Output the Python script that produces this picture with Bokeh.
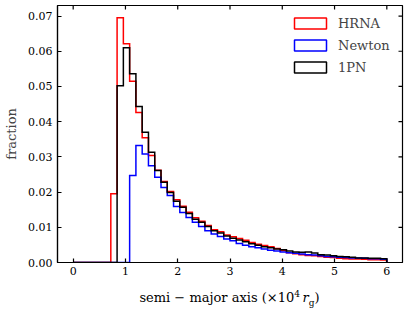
import numpy as np
from bokeh.plotting import figure
from bokeh.layouts import column
from bokeh.models import (Range1d, FixedTicker, Legend, LegendItem, Div,
                          NumeralTickFormatter)
from bokeh.embed import file_html
from bokeh.resources import INLINE

# ---- data (histogram fractions, 50 bins from 0 to 6, width 0.12) ----
bin_start = 0.0
bin_end = 6.0
n_bins = 50

hrna = [0, 0, 0, 0, 0, 0,
        0.0195, 0.0695, 0.0621, 0.0515, 0.0426, 0.0354, 0.0304, 0.0262, 0.0230, 0.0202,
        0.0178, 0.0160, 0.0143, 0.0127, 0.0117, 0.0105, 0.0093, 0.0087, 0.0078, 0.0073,
        0.0068, 0.0063, 0.0057, 0.0052, 0.0048, 0.0045, 0.0040, 0.0034, 0.0028, 0.0025,
        0.0022, 0.0020, 0.0019, 0.0017, 0.0015, 0.0014, 0.0012, 0.0011, 0.0010, 0.0010,
        0.0009, 0.0008, 0.0008, 0.0007]

newton = [0, 0, 0, 0, 0, 0, 0, 0, 0,
          0.0247, 0.0332, 0.0308, 0.0275, 0.0242, 0.0213, 0.0190, 0.0159, 0.0142, 0.0128,
          0.0114, 0.0102, 0.0090, 0.0081, 0.0074, 0.0067, 0.0062, 0.0054, 0.0049, 0.0045,
          0.0042, 0.0038, 0.0035, 0.0033, 0.0030, 0.0028, 0.0026, 0.0024, 0.0022, 0.0021,
          0.0019, 0.0017, 0.0016, 0.0015, 0.0014, 0.0013, 0.0013, 0.0012, 0.0011, 0.0011,
          0.0009]

pn1 = [0, 0, 0, 0, 0, 0, 0,
       0.0502, 0.0610, 0.0536, 0.0443, 0.0370, 0.0313, 0.0261, 0.0228, 0.0199, 0.0174,
       0.0157, 0.0139, 0.0123, 0.0114, 0.0102, 0.0090, 0.0084, 0.0075, 0.0069, 0.0064,
       0.0059, 0.0053, 0.0049, 0.0045, 0.0042, 0.0038, 0.0036, 0.0033, 0.0030, 0.0029,
       0.0030, 0.0027, 0.0022, 0.0021, 0.0019, 0.0017, 0.0016, 0.0015, 0.0013, 0.0013,
       0.0012, 0.0012, 0.0011]

series_names = ["HRNA", "Newton", "1PN"]
series_colors = ["#ff0000", "#0000ff", "#000000"]

x_ticks = [0, 1, 2, 3, 4, 5, 6]
y_ticks = [0.00, 0.01, 0.02, 0.03, 0.04, 0.05, 0.06, 0.07]
x_min, x_max = -0.3, 6.3
y_min, y_max = 0.0, 0.073

x_label_html = ("semi − major axis (×10<sup style='font-size:9px'>4</sup>"
                "&#8201;<i>r</i><sub style='font-size:9px'>g</sub>)")
y_label = "fraction"

FONT = "DejaVu Serif"

edges = np.linspace(bin_start, bin_end, n_bins + 1)


def outline(vals):
    xs = np.repeat(edges, 2)
    ys = np.concatenate([[0.0], np.repeat(np.asarray(vals, dtype=float), 2), [0.0]])
    return xs, ys


LEFT, RIGHT, TOP, BOTTOM = 57, 4, 5, 18
W, H = 406, 280

p = figure(width=W, height=H,
           x_range=Range1d(x_min, x_max), y_range=Range1d(y_min, y_max),
           output_backend="svg", toolbar_location=None,
           min_border_left=LEFT, min_border_right=RIGHT, min_border_top=TOP,
           min_border_bottom=BOTTOM)
p.grid.visible = False
p.outline_line_color = "black"
p.outline_line_width = 1.2
p.background_fill_color = "white"

# histogram outlines (red, blue, black drawn in that order)
for vals, col in zip([hrna, newton, pn1], series_colors):
    xs, ys = outline(vals)
    p.line(xs, ys, line_color=col, line_width=1.5, line_join="miter")

# legend entries: hollow rectangles
legend_items = []
for name, col in zip(series_names, series_colors):
    r = p.quad(left=[np.nan], right=[np.nan], top=[np.nan], bottom=[np.nan],
               fill_color=None, line_color=col, line_width=1.5)
    legend_items.append(LegendItem(label=name, renderers=[r]))

legend = Legend(items=legend_items, location="top_right",
                border_line_color=None, background_fill_alpha=0,
                label_text_font=FONT, label_text_font_size="13px",
                glyph_width=40, glyph_height=14, label_standoff=8,
                label_height=20, label_width=56,
                spacing=2, padding=6, margin=8)
p.add_layout(legend)

# inward ticks on top and right edges (half of each dash is clipped by the frame)
p.scatter(x=x_ticks, y=[y_max] * len(x_ticks), marker="dash", angle=np.pi / 2,
          size=8, line_color="black", line_width=1.2)
p.scatter(x=[x_max] * len(y_ticks), y=y_ticks, marker="dash",
          size=8, line_color="black", line_width=1.2)

xa = p.xaxis[0]
ya = p.yaxis[0]
xa.ticker = FixedTicker(ticks=x_ticks)
ya.ticker = FixedTicker(ticks=y_ticks)
for ax in [xa, ya]:
    ax.major_tick_in = 4
    ax.major_tick_out = 0
    ax.minor_tick_line_color = None
    ax.axis_line_width = 1.2
    ax.major_tick_line_width = 1.2
    ax.axis_line_color = "black"
    ax.major_tick_line_color = "black"
    ax.major_label_text_font = FONT
    ax.major_label_text_font_size = "11px"
    ax.major_label_text_color = "black"

xa.major_label_standoff = 4
ya.major_label_standoff = 5
ya.formatter = NumeralTickFormatter(format="0.00")

ya.axis_label = y_label
ya.axis_label_text_font = FONT
ya.axis_label_text_font_size = "13px"
ya.axis_label_text_font_style = "normal"
ya.axis_label_standoff = 6

frame_w = W - LEFT - RIGHT
xlabel = Div(text=f"<div style=\"font-family:'{FONT}'; font-size:13px; "
                  f"color:black; text-align:center; line-height:15px; "
                  f"width:{frame_w}px; white-space:nowrap;\">{x_label_html}</div>",
             width=frame_w, height=20, margin=(7, 0, 0, LEFT))

layout = column(p, xlabel, spacing=0)

open("out.html", "w").write(file_html(layout, INLINE))
